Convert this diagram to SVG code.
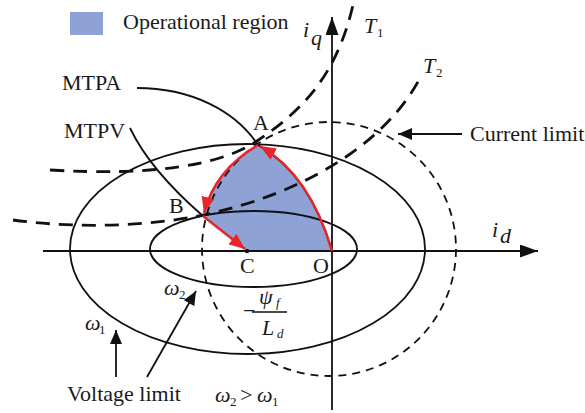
<svg xmlns="http://www.w3.org/2000/svg" width="585" height="413" viewBox="0 0 585 413">
<style>
text{font-family:"Liberation Serif","Times New Roman",serif;fill:#1a1a1a;font-size:22px}
.it{font-style:italic}
.sub{font-size:13px}
.thin{fill:none;stroke:#111;stroke-width:1.8}
.cur{fill:none;stroke:#111;stroke-width:1.8;stroke-dasharray:8 6}
.tq{fill:none;stroke:#111;stroke-width:2.8;stroke-dasharray:14 9}
.red{fill:none;stroke:#e8252a;stroke-width:2.6}
.region{fill:#8ea2d6}
</style>
<defs>
<marker id="axh" markerUnits="userSpaceOnUse" markerWidth="19" markerHeight="13" refX="18" refY="6.5" orient="auto"><path d="M0,0 L18,6.5 L0,13 Z" fill="#111"/></marker>
<marker id="sah" markerUnits="userSpaceOnUse" markerWidth="15" markerHeight="12" refX="14" refY="6" orient="auto"><path d="M0,0 L14,6 L0,12 Z" fill="#111"/></marker>
<marker id="rah" markerUnits="userSpaceOnUse" markerWidth="17" markerHeight="13" refX="16" refY="6.5" orient="auto"><path d="M0,0 L16,6.5 L0,13 Z" fill="#e8252a"/></marker>
</defs>

<g id="legend">
<rect x="70" y="12" width="33" height="23" class="region"/>
<text x="123" y="29">Operational region</text>
</g>

<g id="operational-region">
<path class="region" d="M332,251 Q310,175 258,145 Q215,170 203,216 L247,251 Z"/>
</g>

<g id="voltage-limit-w1">
<ellipse class="thin" cx="247.5" cy="249" rx="177.5" ry="105"/>
</g>
<g id="voltage-limit-w2">
<ellipse class="thin" cx="253.5" cy="249" rx="103.5" ry="38"/>
</g>
<g id="current-limit">
<circle class="cur" cx="329" cy="249" r="127"/>
</g>

<g id="axes">
<line class="thin" x1="43" y1="251" x2="538" y2="251" stroke-width="2" marker-end="url(#axh)"/>
<line class="thin" x1="332" y1="410" x2="332" y2="17" stroke-width="2" marker-end="url(#axh)"/>
</g>

<g id="connectors">
<path id="mtpa" class="thin" d="M137,88 C190,88 235,110 258,145 Q310,175 332,251"/>
<path id="mtpv" class="thin" d="M130,128 Q150,170 203,216"/>
<path id="T1" class="tq" d="M50,170 C150,176 220,166 257,141 C300,112 336,78 353,5"/>
<path id="T2" class="tq" d="M13,220 C80,229 150,226 203,215 C300,195 385,145 420,78"/>
<path class="red" d="M332,251 Q310,175 260,146" marker-end="url(#rah)"/>
<path class="red" d="M258,145 Q215,170 204,213" marker-end="url(#rah)"/>
<path class="red" d="M203,216 L245,249" marker-end="url(#rah)"/>
<line class="thin" x1="462" y1="134" x2="398" y2="134" marker-end="url(#sah)"/>
<line class="thin" x1="116" y1="377" x2="116" y2="330" marker-end="url(#sah)"/>
<line class="thin" x1="147" y1="377" x2="196" y2="291" marker-end="url(#sah)"/>
<circle cx="247" cy="251" r="2.2" fill="#111"/>
</g>

<g id="labels">
<text x="62" y="90">MTPA</text>
<text x="64" y="138">MTPV</text>
<text x="253" y="130">A</text>
<text x="169" y="213">B</text>
<text x="240" y="273">C</text>
<text x="313" y="273">O</text>
<text x="470" y="141">Current limit</text>
<text x="67" y="401">Voltage limit</text>
<text class="it" x="303" y="37" font-size="25">i</text><text class="it" x="311" y="45" font-size="17">q</text>
<text class="it" x="492" y="237" font-size="25">i</text><text class="it" x="500" y="243" font-size="17">d</text>
<text class="it" x="364" y="33">T</text><text class="sub" x="377" y="37">1</text>
<text class="it" x="423" y="73">T</text><text class="sub" x="436" y="77">2</text>
<text class="it" x="85" y="330">ω</text><text class="sub" x="99" y="334">1</text>
<text class="it" x="164" y="295">ω</text><text class="sub" x="179" y="299">2</text>
<text class="it" x="215" y="402">ω</text><text class="sub" x="230" y="406">2</text>
<text x="240" y="402">&gt;</text>
<text class="it" x="257" y="402">ω</text><text class="sub" x="272" y="406">1</text>
<text x="243" y="318">−</text>
<line x1="252" y1="312" x2="287" y2="312" stroke="#111" stroke-width="1.3"/>
<text class="it" x="259" y="304">ψ</text><text class="it sub" x="276" y="307">f</text>
<text class="it" x="262" y="335">L</text><text class="it sub" x="277" y="338">d</text>
</g>
</svg>
